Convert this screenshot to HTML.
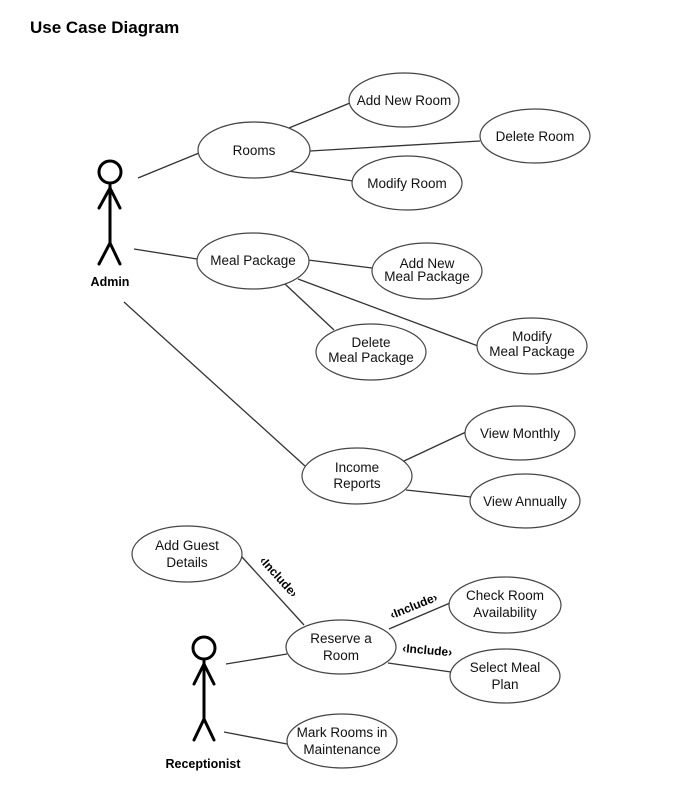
<!DOCTYPE html>
<html><head><style>
html,body{margin:0;padding:0;background:#fff;}
svg{display:block;font-family:"Liberation Sans",sans-serif;}
</style></head><body>
<svg width="700" height="807" viewBox="0 0 700 807" xmlns="http://www.w3.org/2000/svg">
<text x="30" y="33" font-size="17" font-weight="bold" fill="#000">Use Case Diagram</text>
<g stroke="#333" stroke-width="1.3" fill="none">
<line x1="138" y1="178" x2="199" y2="153"/>
<line x1="134" y1="249" x2="197" y2="259"/>
<line x1="124" y1="302" x2="305" y2="466"/>
<line x1="289" y1="128" x2="350" y2="103"/>
<line x1="310" y1="151" x2="480" y2="141"/>
<line x1="288" y1="171" x2="353" y2="181"/>
<line x1="308" y1="260" x2="372" y2="268"/>
<line x1="285" y1="284" x2="334" y2="330"/>
<line x1="298" y1="279" x2="478" y2="346"/>
<line x1="404" y1="461" x2="466" y2="432"/>
<line x1="406" y1="490" x2="471" y2="497"/>
<line x1="226" y1="664" x2="287" y2="654"/>
<line x1="224" y1="732" x2="287" y2="744"/>
<line x1="242" y1="557" x2="304" y2="625"/>
<line x1="389" y1="629" x2="450" y2="603"/>
<line x1="388" y1="663" x2="451" y2="672"/>
</g>
<g stroke="#444" stroke-width="1.2" fill="#fff">
<ellipse cx="404" cy="100" rx="55" ry="27"/>
<ellipse cx="254" cy="150" rx="56" ry="28"/>
<ellipse cx="535" cy="136" rx="55" ry="27"/>
<ellipse cx="407" cy="183" rx="55" ry="27"/>
<ellipse cx="253" cy="261" rx="56" ry="28"/>
<ellipse cx="427" cy="271" rx="55" ry="28"/>
<ellipse cx="371" cy="352" rx="55" ry="28"/>
<ellipse cx="532" cy="346" rx="55" ry="28"/>
<ellipse cx="357" cy="476" rx="55" ry="28"/>
<ellipse cx="520" cy="433" rx="55" ry="27"/>
<ellipse cx="525" cy="501" rx="55" ry="27"/>
<ellipse cx="187" cy="554" rx="55" ry="28"/>
<ellipse cx="341" cy="647" rx="55" ry="27"/>
<ellipse cx="505" cy="605" rx="56" ry="28"/>
<ellipse cx="505" cy="676" rx="55" ry="27"/>
<ellipse cx="342" cy="741" rx="55" ry="27"/>
</g>
<g font-size="13.5" fill="#111" text-anchor="middle">
<text x="404" y="105">Add New Room</text>
<text x="254" y="155">Rooms</text>
<text x="535" y="141">Delete Room</text>
<text x="407" y="188">Modify Room</text>
<text x="253" y="265">Meal Package</text>
<text x="427" y="268">Add New</text><text x="427" y="281">Meal Package</text>
<text x="371" y="347">Delete</text><text x="371" y="362">Meal Package</text>
<text x="532" y="341">Modify</text><text x="532" y="356">Meal Package</text>
<text x="357" y="472">Income</text><text x="357" y="488">Reports</text>
<text x="520" y="438">View Monthly</text>
<text x="525" y="506">View Annually</text>
<text x="187" y="550">Add Guest</text><text x="187" y="567">Details</text>
<text x="341" y="643">Reserve a</text><text x="341" y="660">Room</text>
<text x="505" y="600">Check Room</text><text x="505" y="617">Availability</text>
<text x="505" y="672">Select Meal</text><text x="505" y="689">Plan</text>
<text x="342" y="737">Mark Rooms in</text><text x="342" y="754">Maintenance</text>
</g>
<g font-size="12" font-weight="bold" fill="#000">
<text x="0" y="0" transform="translate(259,561) rotate(48)">‹Include›</text>
<text x="0" y="0" transform="translate(392,619) rotate(-22)">‹Include›</text>
<text x="0" y="0" transform="translate(402,652) rotate(5)">‹Include›</text>
</g>
<g stroke="#000" stroke-width="3" fill="none" stroke-linecap="round">
<circle cx="110" cy="172" r="11"/>
<line x1="110" y1="183" x2="110" y2="243"/>
<line x1="110" y1="188" x2="99" y2="208"/>
<line x1="110" y1="188" x2="120" y2="208"/>
<line x1="110" y1="243" x2="99" y2="264"/>
<line x1="110" y1="243" x2="120" y2="264"/>
<circle cx="204" cy="648" r="11"/>
<line x1="204" y1="659" x2="204" y2="719"/>
<line x1="204" y1="664" x2="194" y2="684"/>
<line x1="204" y1="664" x2="214" y2="684"/>
<line x1="204" y1="719" x2="194" y2="740"/>
<line x1="204" y1="719" x2="214" y2="740"/>
</g>
<g font-size="12.5" font-weight="bold" fill="#000" text-anchor="middle">
<text x="110" y="286">Admin</text>
<text x="203" y="768">Receptionist</text>
</g>
</svg>
</body></html>
